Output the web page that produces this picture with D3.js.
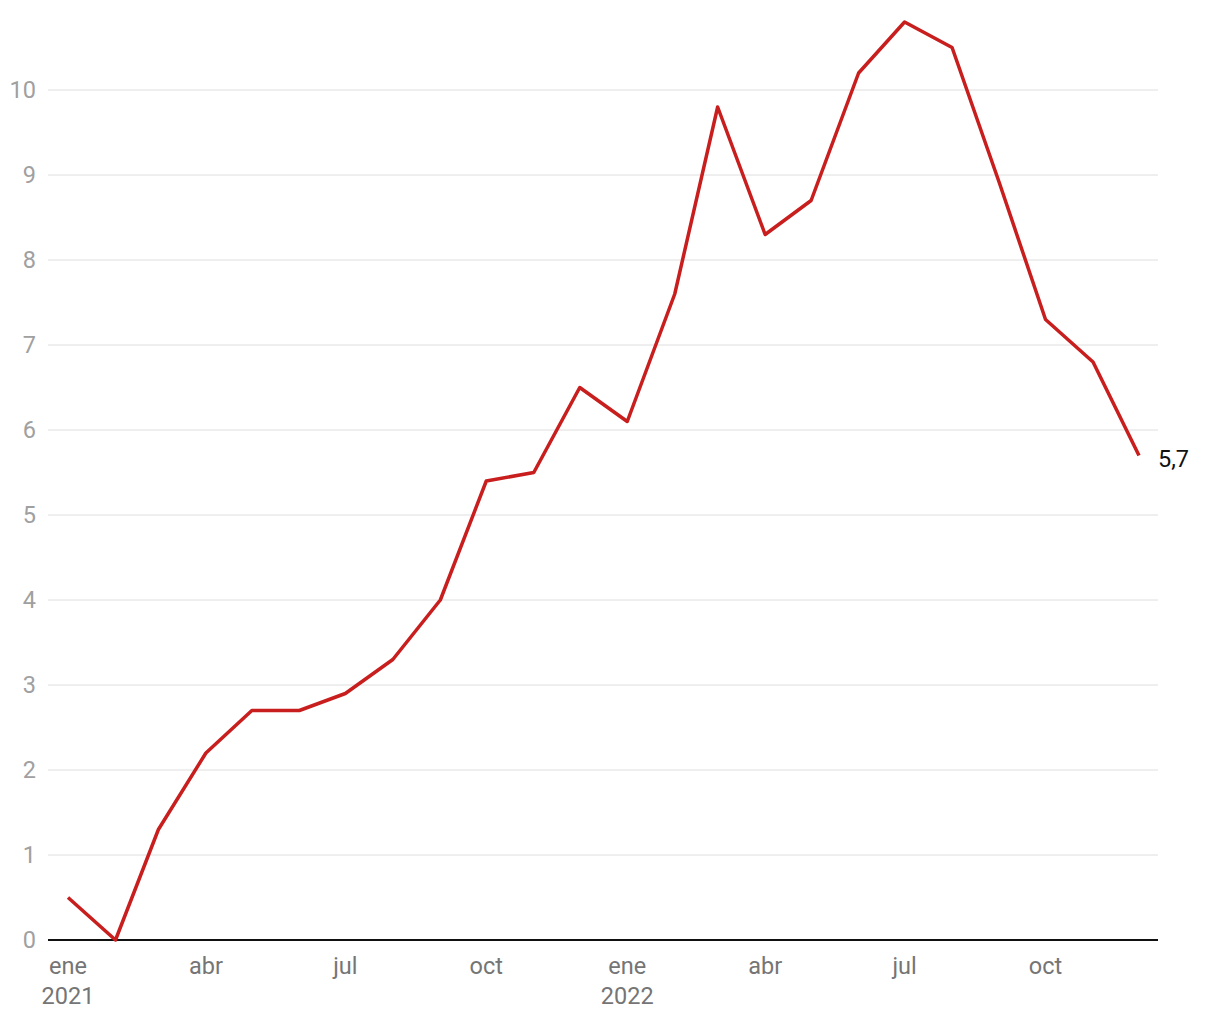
<!DOCTYPE html>
<html>
<head>
<meta charset="utf-8">
<script src="https://cdn.jsdelivr.net/npm/d3@7"></script>
<style>
  body { margin: 0; background: #fff; font-family: Roboto, sans-serif; }
  .grid line { stroke: #dedede; stroke-width: 1; }
  .ylab { fill: #a0a0a0; font-size: 23.5px; }
  .xlab { fill: #757575; font-size: 23.5px; }
</style>
</head>
<body>
<svg id="chart" width="1220" height="1020"></svg>
<script>
// monthly values, Jan 2021 .. Dec 2022
var months = ["2021-01","2021-02","2021-03","2021-04","2021-05","2021-06","2021-07","2021-08","2021-09","2021-10","2021-11","2021-12",
              "2022-01","2022-02","2022-03","2022-04","2022-05","2022-06","2022-07","2022-08","2022-09","2022-10","2022-11","2022-12"];
var values = [0.5, 0.0, 1.3, 2.2, 2.7, 2.7, 2.9, 3.3, 4.0, 5.4, 5.5, 6.5,
              6.1, 7.6, 9.8, 8.3, 8.7, 10.2, 10.8, 10.5, 8.9, 7.3, 6.8, 5.7];
var yTicks = [0, 1, 2, 3, 4, 5, 6, 7, 8, 9, 10];
var xTicks = ["2021-01","2021-04","2021-07","2021-10","2022-01","2022-04","2022-07","2022-10"];
var monthNames = ["ene","feb","mar","abr","may","jun","jul","ago","sep","oct","nov","dic"];

var parseMonth = d3.utcParse("%Y-%m");
var data = months.map((m, i) => ({ x: parseMonth(m), y: values[i] }));

var gridLeft = 48, gridRight = 1158;
var x = d3.scaleUtc().domain([data[0].x, data[data.length - 1].x]).range([68, 1139]);
var y = d3.scaleLinear().domain([0, 10]).range([940, 90]);

var svg = d3.select("#chart");

// horizontal grid
svg.append("g").attr("class", "grid")
    .selectAll("line").data(yTicks.filter(d => d > 0)).enter()
    .append("line")
    .attr("x1", gridLeft).attr("x2", gridRight)
    .attr("y1", d => y(d)).attr("y2", d => y(d));

svg.append("g").selectAll("text").data(yTicks).enter()
    .append("text").attr("class", "ylab")
    .attr("x", 36).attr("y", d => y(d)).attr("dy", "0.35em")
    .attr("text-anchor", "end")
    .text(d => d);

// baseline
svg.append("line")
    .attr("x1", gridLeft).attr("x2", gridRight)
    .attr("y1", y(0)).attr("y2", y(0))
    .attr("stroke", "#111").attr("stroke-width", 2);

// x labels
var xl = svg.append("g").selectAll("g").data(xTicks.map(parseMonth)).enter()
    .append("text").attr("class", "xlab")
    .attr("text-anchor", "middle")
    .attr("transform", d => "translate(" + x(d) + ",0)");
xl.append("tspan").attr("x", 0).attr("y", 974).text(d => monthNames[d.getUTCMonth()]);
xl.filter(d => d.getUTCMonth() == 0)
    .append("tspan").attr("x", 0).attr("y", 1004).text(d => d.getUTCFullYear());

// line
var valueline = d3.line().x(d => x(d.x)).y(d => y(d.y));
svg.append("path")
    .attr("d", valueline(data))
    .attr("fill", "none")
    .attr("stroke", "#c81e1e")
    .attr("stroke-width", 3.5)
    .attr("stroke-linejoin", "round");

// last value label
var last = data[data.length - 1];
svg.append("text")
    .attr("x", x(last.x) + 19).attr("y", y(last.y) + 3)
    .attr("dy", "0.35em")
    .attr("font-size", 23.5).attr("fill", "#111")
    .text(String(last.y).replace(".", ","));
</script>
</body>
</html>
